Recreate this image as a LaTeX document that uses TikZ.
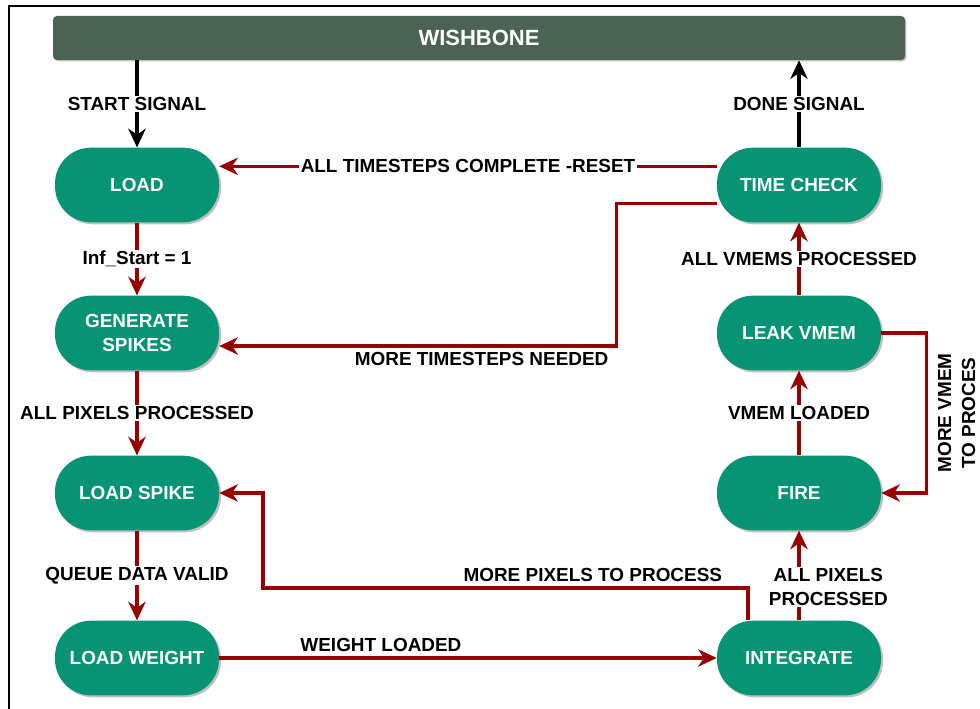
\documentclass[tikz,border=0pt]{standalone}
\usepackage{fontspec}
\setmainfont{Liberation Sans}
\usetikzlibrary{arrows.meta}
\usetikzlibrary{shadows}
\definecolor{statefill}{RGB}{6,148,117}
\definecolor{busfill}{RGB}{74,99,84}
\definecolor{darkred}{RGB}{153,0,0}

\begin{document}
\begin{tikzpicture}[
		x=0.75pt,
		y=-0.75pt,
		font=\fontsize{14.2}{18}\selectfont\bfseries,
		fsm/.style={fill=statefill, text=white, rounded corners=27pt, minimum width=123pt, minimum height=56pt, align=center, drop shadow={shadow xshift=1.5pt, shadow yshift=-1.5pt, fill=black, opacity=0.25}},
		bus/.style={fill=busfill, text=white, rounded corners=3pt, minimum width=639pt, minimum height=33pt, font=\fontsize{16.5}{18}\selectfont\bfseries, drop shadow={shadow xshift=1pt, shadow yshift=-1pt, fill=black, opacity=0.25}},
		go/.style={draw=darkred, line width=2.6pt, -{Stealth[length=14pt, width=13pt, inset=4.5pt]}},
		sig/.style={go, draw=black},
		lbl/.style={fill=white, inner sep=1pt, text=black, align=center}
	]
	  	\useasboundingbox (0,0) rectangle (980,709);
	  	\draw[line width=1.8pt] (9,715) -- (9,6) -- (990,6);
	  	% bus and states
	  	\node[bus] (wb) at (479,38) {WISHBONE};
	  	\node[fsm] (load) at (137,185) {LOAD};
	  	\node[fsm] (gen) at (137,333) {GENERATE\\SPIKES};
	  	\node[fsm] (lspike) at (137,493) {LOAD SPIKE};
	  	\node[fsm] (lweight) at (137,658) {LOAD WEIGHT};
	  	\node[fsm] (tcheck) at (799,185) {TIME CHECK};
	  	\node[fsm] (leak) at (799,333) {LEAK VMEM};
	  	\node[fsm] (fire) at (799,493) {FIRE};
	  	\node[fsm] (integ) at (799,658) {INTEGRATE};
	  	% transitions
	  	\draw[sig] (wb.south -| load) -- node[lbl] {START SIGNAL} (load);
	  	\draw[sig] (tcheck) -- node[lbl] {DONE SIGNAL} (tcheck |- wb.south);
	  	\draw[go] ([yshift=14pt]tcheck.west) -- node[lbl] {ALL TIMESTEPS COMPLETE -RESET} ([yshift=14pt]load.east);
	  	\draw[go] ([yshift=-14pt]tcheck.west) -- ++(-100,0) |- node[pos=0.67, below, text=black] {MORE TIMESTEPS NEEDED} ([yshift=-9.75pt]gen.east);
	  	\draw[go] (load) -- node[lbl] {Inf\_Start = 1} (gen);
	  	\draw[go] (gen) -- node[lbl] {ALL PIXELS PROCESSED} (lspike);
	  	\draw[go] (lspike) -- node[lbl] {QUEUE DATA VALID} (lweight);
	  	\draw[go] (lweight) -- node[pos=0.325, above, text=black] {WEIGHT LOADED} (integ);
	  	\draw[go] ([xshift=-38.25pt]integ.north) |- node[pos=0.66, above, text=black] {MORE PIXELS TO PROCESS} (263,588) |- (lspike.east);
	  	\draw[go] (integ) -- node[lbl, pos=0.37, xshift=22pt] {ALL PIXELS\\PROCESSED} (fire);
	  	\draw[go] (fire) -- node[lbl] {VMEM LOADED} (leak);
	  	\draw[go] (leak) -- node[lbl] {ALL VMEMS PROCESSED} (tcheck);
	  	\draw[go] (leak.east) -- ++(45,0) |- node[pos=0.25, xshift=7.5pt, rotate=90, anchor=north, inner sep=0pt, text=black, align=center] {MORE VMEM\\TO PROCES} (fire.east);
	\end{tikzpicture}
\end{document}
